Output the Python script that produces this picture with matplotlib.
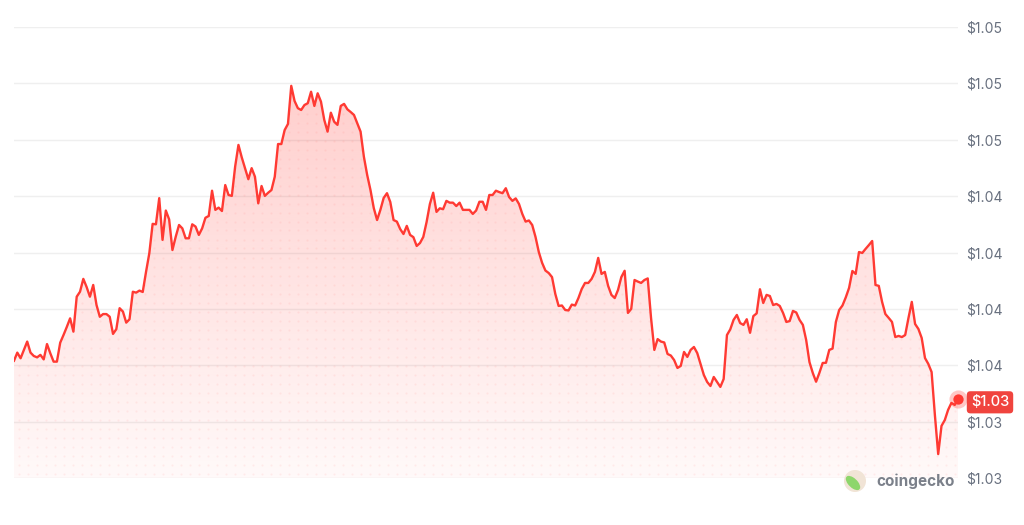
import numpy as np
import matplotlib.pyplot as plt
from matplotlib.patches import Polygon, Ellipse

plt.rcParams["font.family"] = ["Inter", "DejaVu Sans"]

# 24h price history (USD)
prices = [
    1.03620, 1.03656, 1.03631, 1.03668, 1.03705, 1.03656, 1.03641, 1.03635, 1.03646, 1.03626,
    1.03694, 1.03653, 1.03616, 1.03616, 1.03700, 1.03734, 1.03770, 1.03808, 1.03749, 1.03904,
    1.03926, 1.03983, 1.03947, 1.03904, 1.03956, 1.03867, 1.03815, 1.03827, 1.03827, 1.03815,
    1.03739, 1.03760, 1.03853, 1.03838, 1.03789, 1.03804, 1.03926, 1.03922, 1.03931, 1.03925,
    1.04014, 1.04097, 1.04227, 1.04225, 1.04341, 1.04156, 1.04286, 1.04247, 1.04111, 1.04170,
    1.04222, 1.04207, 1.04163, 1.04163, 1.04225, 1.04215, 1.04178, 1.04207, 1.04254, 1.04262,
    1.04374, 1.04289, 1.04299, 1.04284, 1.04399, 1.04355, 1.04351, 1.04481, 1.04577, 1.04522,
    1.04474, 1.04425, 1.04474, 1.04436, 1.04318, 1.04395, 1.04351, 1.04365, 1.04377, 1.04436,
    1.04581, 1.04581, 1.04643, 1.04670, 1.04839, 1.04772, 1.04740, 1.04732, 1.04754, 1.04762,
    1.04813, 1.04750, 1.04806, 1.04769, 1.04688, 1.04636, 1.04720, 1.04680, 1.04666, 1.04750,
    1.04759, 1.04735, 1.04723, 1.04710, 1.04673, 1.04636, 1.04525, 1.04444, 1.04377, 1.04297,
    1.04244, 1.04289, 1.04342, 1.04363, 1.04324, 1.04244, 1.04237, 1.04204, 1.04182, 1.04218,
    1.04178, 1.04168, 1.04129, 1.04142, 1.04169, 1.04235, 1.04315, 1.04365, 1.04280, 1.04296,
    1.04292, 1.04329, 1.04321, 1.04321, 1.04306, 1.04321, 1.04289, 1.04289, 1.04289, 1.04271,
    1.04286, 1.04325, 1.04325, 1.04289, 1.04355, 1.04355, 1.04374, 1.04368, 1.04363, 1.04385,
    1.04346, 1.04329, 1.04340, 1.04315, 1.04271, 1.04237, 1.04242, 1.04222, 1.04169, 1.04102,
    1.04054, 1.04020, 1.04009, 1.03991, 1.03916, 1.03863, 1.03865, 1.03845, 1.03843, 1.03869,
    1.03865, 1.03898, 1.03938, 1.03965, 1.03965, 1.03983, 1.04014, 1.04076, 1.04005, 1.04014,
    1.03952, 1.03912, 1.03898, 1.03934, 1.03991, 1.04019, 1.03832, 1.03850, 1.03978, 1.03971,
    1.03965, 1.03978, 1.03985, 1.03810, 1.03668, 1.03716, 1.03705, 1.03701, 1.03650, 1.03643,
    1.03623, 1.03588, 1.03597, 1.03659, 1.03637, 1.03668, 1.03681, 1.03654, 1.03606, 1.03557,
    1.03526, 1.03508, 1.03548, 1.03526, 1.03504, 1.03539, 1.03734, 1.03759, 1.03801, 1.03823,
    1.03787, 1.03779, 1.03804, 1.03744, 1.03818, 1.03830, 1.03937, 1.03876, 1.03912, 1.03907,
    1.03867, 1.03872, 1.03863, 1.03832, 1.03792, 1.03796, 1.03841, 1.03834, 1.03801, 1.03779,
    1.03712, 1.03614, 1.03566, 1.03527, 1.03566, 1.03610, 1.03611, 1.03668, 1.03674, 1.03792,
    1.03845, 1.03865, 1.03901, 1.03943, 1.04018, 1.04005, 1.04102, 1.04098, 1.04116, 1.04133,
    1.04151, 1.03956, 1.03952, 1.03881, 1.03827, 1.03810, 1.03792, 1.03725, 1.03730, 1.03725,
    1.03734, 1.03810, 1.03881, 1.03783, 1.03761, 1.03721, 1.03632, 1.03606, 1.03570, 1.03379,
    1.03206, 1.03331, 1.03357, 1.03402, 1.03433, 1.03424, 1.03449,
]
hours = np.linspace(0, 24, len(prices))

y_ticks = [1.0310, 1.0335, 1.0360, 1.0385, 1.0410, 1.0435, 1.0460, 1.0485, 1.0510]
y_min, y_max = 1.0310, 1.0510

RED = "#ff3a33"
LABEL = "#68707f"

fig = plt.figure(figsize=(10.24, 5.25), dpi=100)
ax = fig.add_axes([14 / 1024, 47 / 525, 944 / 1024, 451 / 525])
ax.set_xlim(hours[0], hours[-1])
ax.set_ylim(y_min, y_max)

# grid + right axis labels
ax.set_yticks(y_ticks)
ax.set_yticklabels([f"${t:.2f}" for t in y_ticks])
ax.yaxis.tick_right()
ax.tick_params(axis="y", length=0, pad=6, labelsize=10, labelcolor=LABEL)
ax.set_xticks([])
ax.grid(axis="y", color="#efefef", linewidth=1)
ax.set_axisbelow(True)
for s in ax.spines.values():
    s.set_visible(False)

# area under the line: vertical gradient + faint dot pattern
verts = np.column_stack([np.r_[hours, hours[-1], hours[0]],
                         np.r_[prices, y_min, y_min]])
clip = Polygon(verts, closed=True, transform=ax.transData, facecolor="none", edgecolor="none")
ax.add_patch(clip)

grad = np.zeros((256, 1, 4))
grad[..., 0] = 1.0
grad[..., 1] = 58 / 255
grad[..., 2] = 51 / 255
grad[:, 0, 3] = np.linspace(0.03, 0.28, 256)
im = ax.imshow(grad, extent=[hours[0], hours[-1], y_min, y_max], origin="lower",
               aspect="auto", zorder=1, interpolation="bicubic")
im.set_clip_path(clip)

gx, gy = np.meshgrid(np.arange(4.5, 944, 9) / 944, np.arange(4.5, 451, 9) / 451)
dots = ax.scatter(gx.ravel(), gy.ravel(), s=2.2, color=RED, alpha=0.07,
                  linewidths=0, transform=ax.transAxes, zorder=2)
dots.set_clip_path(clip)

ax.plot(hours, prices, color=RED, linewidth=1.7, zorder=3, solid_joinstyle="round")

# last price marker and badge
ax.scatter([hours[-1]], [prices[-1]], s=170, color=RED, alpha=0.28, linewidths=0, zorder=4, clip_on=False)
ax.scatter([hours[-1]], [prices[-1]], s=55, color=RED, linewidths=0, zorder=5, clip_on=False)
ax.annotate(f"${prices[-1]:.2f}", xy=(hours[-1], prices[-1]), xytext=(32, -3),
            textcoords="offset pixels", ha="center", va="center", color="white",
            fontsize=10.5, fontweight="medium", annotation_clip=False, zorder=6,
            bbox=dict(boxstyle="round,pad=0.28,rounding_size=0.25", fc="#f0443e", ec="none"))

# coingecko watermark
fig.patches.append(Ellipse((855 / 1024, 1 - 481 / 525), 22 / 1024, 22 / 525, transform=fig.transFigure,
                           facecolor="#f1e4d6", edgecolor="none", zorder=10))
fig.patches.append(Ellipse((853 / 1024, 1 - 483 / 525), 11 / 1024, 15 / 525, angle=20,
                           transform=fig.transFigure, facecolor="#8dd66b", edgecolor="none", zorder=11))
fig.text(876 / 1024, 1 - 481 / 525, "coingecko", ha="left", va="center", fontsize=11,
         fontweight="bold", color="#7b808a", zorder=12)

fig.savefig("out.png", dpi=100)
